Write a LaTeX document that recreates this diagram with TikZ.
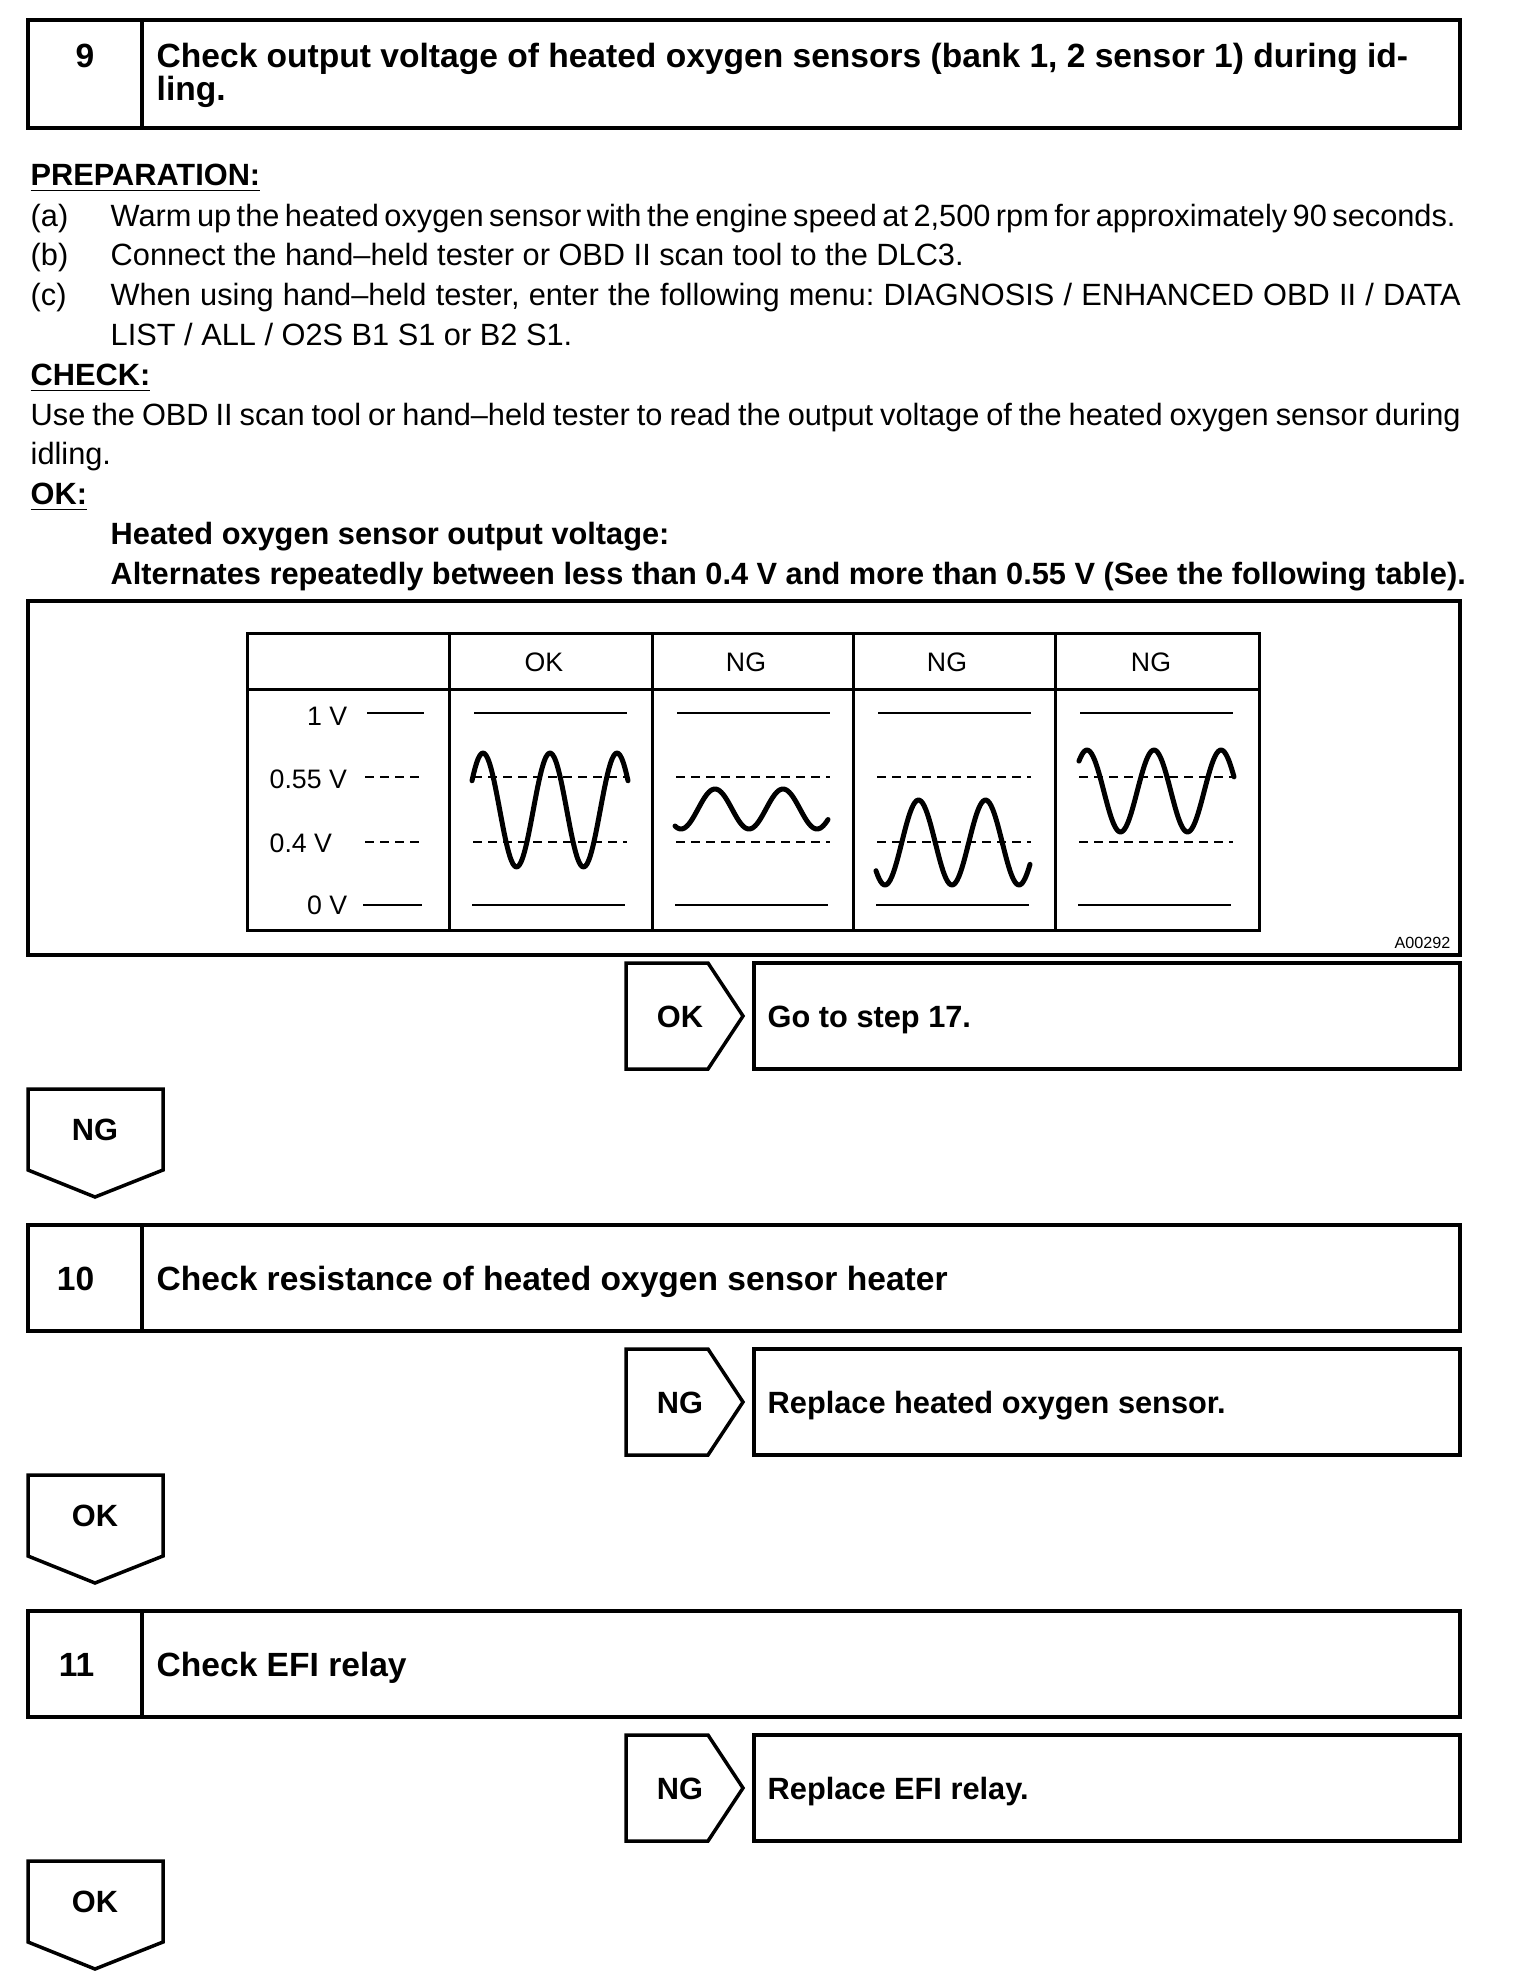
\documentclass[tikz,border=0pt]{standalone}
\usepackage{fontspec}
\setmainfont{Liberation Sans}
\newcommand{\fitline}[2]{\hbox to #1{\frenchspacing\spaceskip=0.2em plus 1fil minus 0.1em\relax #2}}

\begin{document}
\begin{tikzpicture}[
  x=0.1mm, y=-0.1mm,
  boxline/.style={line width=0.35mm},
  tablegrid/.style={line width=0.3mm},
  vline/.style={line width=0.2mm},
  refline/.style={line width=0.15mm, dash pattern=on 0.9mm off 0.6mm},
  wave/.style={line width=0.5mm, line join=round, line cap=round},
  bodytxt/.style={anchor=base west, inner sep=0pt, font=\fontsize{8.75pt}{11pt}\selectfont},
  bodyb/.style={bodytxt, font=\fontsize{8.75pt}{11pt}\selectfont\bfseries},
  steptitle/.style={anchor=base west, inner sep=0pt, font=\fontsize{9.55pt}{11pt}\selectfont\bfseries},
  stepno/.style={steptitle, anchor=base east},
  tagtxt/.style={anchor=base, inner sep=0pt, font=\fontsize{8.75pt}{11pt}\selectfont\bfseries},
  tabtxt/.style={anchor=base, inner sep=0pt, font=\fontsize{7.6pt}{9pt}\selectfont}
]
  \path[use as bounding box, fill=white] (0,0) rectangle (1536,1984);

  % step 9
  \draw[boxline] (28,20) rectangle (1460,128);
  \draw[boxline] (142,20) -- (142,128);
  \node[stepno] (n9) at (95,67) {9};
  \node[steptitle] (t9a) at (156,67) {Check output voltage of heated oxygen sensors (bank 1, 2 sensor 1) during id-};
  \node[steptitle] (t9b) at (156,100) {ling.};

  \node[bodyb] (prep) at (30,185) {\underline{PREPARATION:}};
  \node[bodytxt] (ia) at (30,226) {(a)};
  \node[bodytxt] (ta) at (110,226) {\fitline{134.5mm}{Warm up the heated oxygen sensor with the engine speed at 2,500 rpm for approximately 90 seconds.}};
  \node[bodytxt] (ib) at (30,265) {(b)};
  \node[bodytxt] (tb) at (110,265) {Connect the hand--held tester or OBD II scan tool to the DLC3.};
  \node[bodytxt] (ic) at (30,305) {(c)};
  \node[bodytxt] (tc) at (110,305) {\fitline{135mm}{When using hand--held tester, enter the following menu: DIAGNOSIS / ENHANCED OBD II / DATA}};
  \node[bodytxt] (tc2) at (110,345) {LIST / ALL / O2S B1 S1 or B2 S1.};
  \node[bodyb] (chk) at (30,385) {\underline{CHECK:}};
  \node[bodytxt] (use) at (30,425) {\fitline{143mm}{Use the OBD II scan tool or hand--held tester to read the output voltage of the heated oxygen sensor during}};
  \node[bodytxt] (use2) at (30,464) {idling.};
  \node[bodyb] (okh) at (30,504) {\underline{OK:}};
  \node[bodyb] (spec1) at (110,544) {Heated oxygen sensor output voltage:};
  \node[bodyb] (spec2) at (110,584) {Alternates repeatedly between less than 0.4 V and more than 0.55 V (See the following table).};

  % voltage table
  \draw[boxline] (28,601) rectangle (1460,955);
  \draw[tablegrid] (247,633) rectangle (1259,930);
  \draw[tablegrid] (247,689) -- (1259,689);
  \foreach \c in {449,652,853,1055}
    \draw[tablegrid] (\c,633) -- (\c,930);
  \node[tabtxt] (colok) at (544,671) {OK};
  \node[tabtxt] (colng1) at (746,671) {NG};
  \node[tabtxt] (colng2) at (947,671) {NG};
  \node[tabtxt] (colng3) at (1151,671) {NG};
  \node[tabtxt, anchor=base east] (v1) at (348,725) {1 V};
  \node[tabtxt, anchor=base west] (v055) at (269,788) {0.55 V};
  \node[tabtxt, anchor=base west] (v04) at (269,852) {0.4 V};
  \node[tabtxt, anchor=base east] (v0) at (348,914) {0 V};
  \draw[vline] (367,713) -- (424,713);
  \draw[refline] (365,777) -- (422,777);
  \draw[refline] (365,842) -- (422,842);
  \draw[vline] (363,905) -- (422,905);
  \foreach \c in {449,652,853,1055} {
    \draw[vline] ({\c+25},713) -- ({\c+178},713);
    \draw[refline] ({\c+24},777) -- ({\c+178},777);
    \draw[refline] ({\c+24},842) -- ({\c+178},842);
    \draw[vline] ({\c+23},905) -- ({\c+176},905);
  }
  \draw[wave] plot[domain=472:628, samples=100, smooth] (\x, {810-57*cos((\x-483)/67*360)});
  \draw[wave] plot[domain=675:828, samples=100, smooth] (\x, {809-20*cos((\x-715)/68*360)});
  \draw[wave] plot[domain=876:1030, samples=100, smooth] (\x, {842.5+42.5*cos((\x-885)/67*360)});
  \draw[wave] plot[domain=1079:1234, samples=100, smooth] (\x, {791-41*cos((\x-1087)/67*360)});
  \node[anchor=base east, inner sep=0pt, font=\fontsize{4.6pt}{5pt}\selectfont] (figid) at (1451,948) {A00292};

  \draw[boxline] (626,963) -- (708,963) -- (743,1016) -- (708,1069) -- (626,1069) -- cycle;
  \node[tagtxt] (ok9) at (680,1027) {OK};
  \draw[boxline] (754,963) rectangle (1460,1069);
  \node[bodyb] (go17) at (767,1027) {Go to step 17.};
  \draw[boxline] (28,1089) -- (163,1089) -- (163,1170) -- (95,1197) -- (28,1170) -- cycle;
  \node[tagtxt] (ng9) at (95,1140) {NG};

  % step 10
  \draw[boxline] (28,1225) rectangle (1460,1331);
  \draw[boxline] (142,1225) -- (142,1331);
  \node[stepno] (n10) at (95,1290) {10};
  \node[steptitle] (t10) at (156,1290) {Check resistance of heated oxygen sensor heater};
  \draw[boxline] (626,1349) -- (708,1349) -- (743,1402) -- (708,1455) -- (626,1455) -- cycle;
  \node[tagtxt] (ng10) at (680,1413) {NG};
  \draw[boxline] (754,1349) rectangle (1460,1455);
  \node[bodyb] (repsens) at (767,1413) {Replace heated oxygen sensor.};
  \draw[boxline] (28,1475) -- (163,1475) -- (163,1556) -- (95,1583) -- (28,1556) -- cycle;
  \node[tagtxt] (ok10) at (95,1526) {OK};

  % step 11
  \draw[boxline] (28,1611) rectangle (1460,1717);
  \draw[boxline] (142,1611) -- (142,1717);
  \node[stepno] (n11) at (95,1676) {11};
  \node[steptitle] (t11) at (156,1676) {Check EFI relay};
  \draw[boxline] (626,1735) -- (708,1735) -- (743,1788) -- (708,1841) -- (626,1841) -- cycle;
  \node[tagtxt] (ng11) at (680,1799) {NG};
  \draw[boxline] (754,1735) rectangle (1460,1841);
  \node[bodyb] (repefi) at (767,1799) {Replace EFI relay.};
  \draw[boxline] (28,1861) -- (163,1861) -- (163,1942) -- (95,1969) -- (28,1942) -- cycle;
  \node[tagtxt] (ok11) at (95,1912) {OK};
\end{tikzpicture}
\end{document}
